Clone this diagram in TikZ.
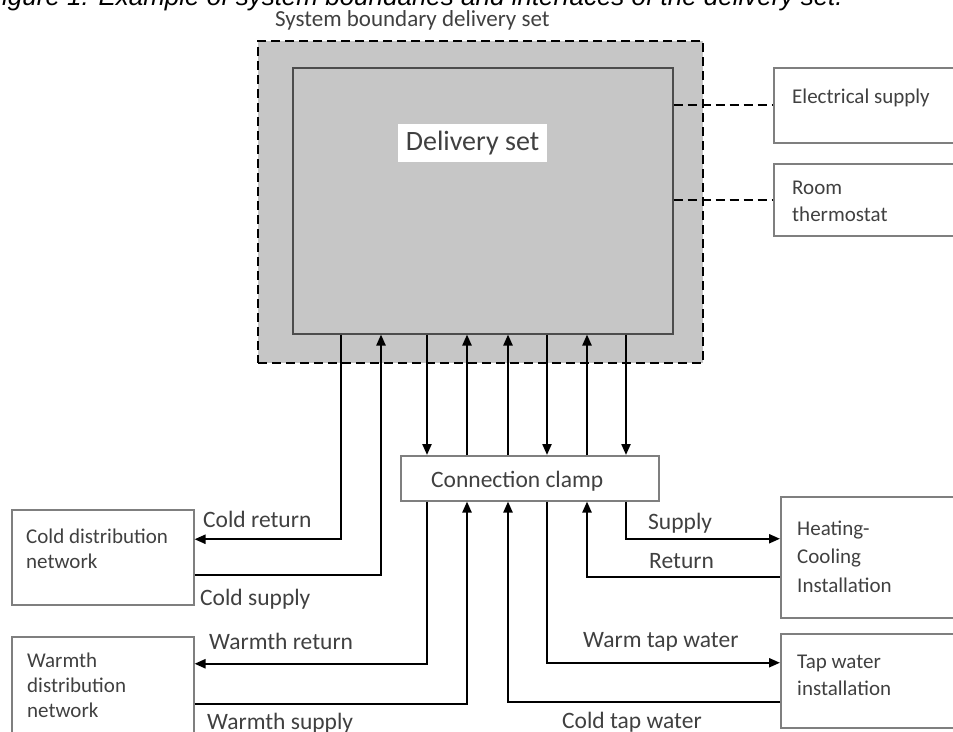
\documentclass[tikz,border=0pt]{standalone}
\usepackage{fontspec}
\setmainfont{Carlito}
\newfontfamily\captionfont{Liberation Sans}
\usetikzlibrary{arrows.meta}

\definecolor{setgray}{HTML}{C6C6C6}
\definecolor{txtgray}{HTML}{404040}
\definecolor{boxgray}{HTML}{7F7F7F}

\tikzset{
  unit/.style={draw=boxgray, line width=1.5pt, rectangle, anchor=north west, inner sep=0pt},
  boxtext/.style={text=txtgray, font=\fontsize{21}{25}\selectfont, align=left, anchor=base west, inner sep=0pt},
  lbl/.style={text=txtgray, font=\fontsize{23.5}{27}\selectfont, anchor=base west, inner sep=0pt},
  pipe/.style={line width=2.2pt, -{Triangle[length=11pt,width=9pt]}},
  link/.style={line width=2.2pt, dash pattern=on 9pt off 5pt},
}

\begin{document}
\begin{tikzpicture}[x=1pt, y=-1pt]
  \useasboundingbox (0,0) rectangle (953,731);

  % caption, cut by the top edge
  \node[font=\captionfont\itshape\fontsize{26}{30}\selectfont, anchor=base east, inner sep=0pt] (caption) at (843,5)
    {Figure 1: Example of system boundaries and interfaces of the delivery set.};

  % system boundary and delivery set
  \node[lbl, font=\fontsize{23}{27}\selectfont] (boundary text) at (275,26) {System boundary delivery set};
  \node[draw, fill=setgray, line width=2.2pt, dash pattern=on 9pt off 5pt, anchor=north west,
        minimum width=445pt, minimum height=322pt, inner sep=0pt] (boundary) at (257,40) {};
  \node[draw=black!70, fill=setgray, line width=1.5pt, anchor=north west,
        minimum width=380pt, minimum height=266pt, inner sep=0pt] (delivery) at (292,67) {};
  \node[fill=white, text=txtgray, font=\fontsize{28}{32}\selectfont, minimum width=149pt,
        minimum height=38pt, inner sep=0pt] (delivery text) at (472.5,143) {Delivery set};

  % interfaces
  \node[unit, minimum width=190pt, minimum height=75pt] (elec) at (773,67) {};
  \node[unit, minimum width=190pt, minimum height=72pt] (thermo) at (773,163) {};
  \node[unit, minimum width=258pt, minimum height=45pt] (clamp) at (400,455) {};
  \node[unit, minimum width=182pt, minimum height=95pt] (colddist) at (11,509) {};
  \node[unit, minimum width=182pt, minimum height=104pt] (warmdist) at (11,636) {};
  \node[unit, minimum width=185pt, minimum height=121pt] (heatcool) at (780,496) {};
  \node[unit, minimum width=185pt, minimum height=94pt] (tapinst) at (780,633) {};

  \node[boxtext] (elec text) at (792,103) {Electrical supply};
  \node[boxtext, font=\fontsize{21}{27}\selectfont] (thermo text) at (792,221) {Room\\thermostat};
  \node[lbl] (clamp text) at (431,487) {Connection clamp};
  \node[boxtext] (colddist text) at (26,568) {Cold distribution\\network};
  \node[boxtext] (warmdist text) at (27,717) {Warmth\\distribution\\network};
  \node[boxtext, font=\fontsize{21}{28.5}\selectfont] (heatcool text) at (797,592) {Heating-\\Cooling\\Installation};
  \node[boxtext, font=\fontsize{21}{27}\selectfont] (tapinst text) at (797,695) {Tap water\\installation};

  % wire positions
  \foreach \n/\x in {a/341, b/381, c/427, d/467, e/508, f/547, g/587, h/626}
    \coordinate (w\n) at (\x,0);

  % delivery set <-> connection clamp
  \foreach \w in {wc, wf, wh}
    \draw[pipe] (delivery.south -| \w) -- (clamp.north -| \w);
  \foreach \w in {wd, we, wg}
    \draw[pipe] (clamp.north -| \w) -- (delivery.south -| \w);

  % cold distribution
  \draw[pipe] (delivery.south -| wa) |- ([yshift=18pt]colddist.east);
  \draw[pipe] ([yshift=-18pt]colddist.east) -| (delivery.south -| wb);
  \node[lbl] (cold return) at (203,527) {Cold return};
  \node[lbl] (cold supply) at (200,605) {Cold supply};

  % warmth distribution
  \draw[pipe] (clamp.south -| wc) |- ([yshift=25pt]warmdist.east);
  \draw[pipe] ([yshift=-15pt]warmdist.east) -| (clamp.south -| wd);
  \node[lbl] (warm return) at (209,649) {Warmth return};
  \node[lbl] (warm supply) at (207,729) {Warmth supply};

  % heating-cooling installation
  \draw[pipe] (clamp.south -| wh) |- ([yshift=18.5pt]heatcool.west);
  \draw[pipe] ([yshift=-19.5pt]heatcool.west) -| (clamp.south -| wg);
  \node[lbl] (supply) at (648,529) {Supply};
  \node[lbl] (return) at (649,568) {Return};

  % tap water installation
  \draw[pipe] (clamp.south -| wf) |- ([yshift=18pt]tapinst.west);
  \draw[pipe] ([yshift=-21pt]tapinst.west) -| (clamp.south -| we);
  \node[lbl] (warm tap) at (583,647) {Warm tap water};
  \node[lbl] (cold tap) at (562,728) {Cold tap water};

  % electrical links
  \draw[link] (delivery.east |- elec.west) -- (elec.west);
  \draw[link] (delivery.east |- thermo.west) -- (thermo.west);
\end{tikzpicture}
\end{document}
